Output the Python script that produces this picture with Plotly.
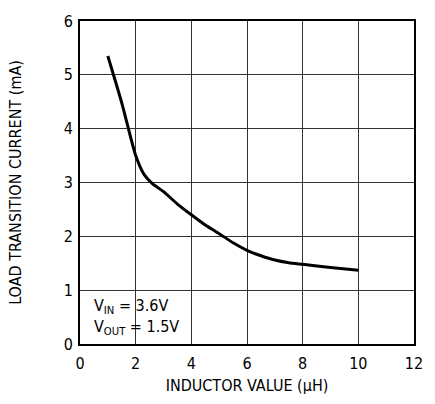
import plotly.graph_objects as go

# inductor value (uH) vs load transition current (mA)
inductance = [1.0, 1.5, 2.0, 2.3, 2.6, 3.0, 3.5, 4.0, 4.5, 5.0, 5.5, 6.0, 6.5, 7.0, 7.5, 8.0, 9.0, 10.0]
current = [5.35, 4.48, 3.5, 3.15, 2.98, 2.83, 2.6, 2.4, 2.21, 2.05, 1.88, 1.74, 1.64, 1.56, 1.51, 1.48, 1.42, 1.37]

font_name = "DejaVu Sans Condensed, Liberation Sans, Arial"

fig = go.Figure()
fig.add_trace(go.Scatter(x=inductance, y=current, mode="lines",
                         line=dict(color="black", width=3, shape="spline", smoothing=0.6),
                         showlegend=False))

fig.add_annotation(x=0.035, y=0.085, xref="paper", yref="paper", xanchor="left", yanchor="middle",
                   text="V<sub>IN</sub> = 3.6V<br>V<sub>OUT</sub> = 1.5V", showarrow=False, align="left",
                   font=dict(family=font_name, size=16, color="black"))

fig.update_layout(
    width=435, height=404,
    margin=dict(l=80, r=21, t=12, b=56),
    plot_bgcolor="white", paper_bgcolor="white",
    font=dict(family=font_name, size=16, color="black"),
    xaxis=dict(range=[0, 12], dtick=2, showgrid=True, gridcolor="#333", gridwidth=1,
               showline=True, linecolor="black", linewidth=2, mirror=True, zeroline=False,
               ticks="", ticklabelstandoff=4,
               title=dict(text="INDUCTOR VALUE (µH)", font=dict(size=16), standoff=8)),
    yaxis=dict(range=[0, 6], dtick=1, showgrid=True, gridcolor="#333", gridwidth=1,
               showline=True, linecolor="black", linewidth=2, mirror=True, zeroline=False,
               ticks="", ticklabelstandoff=2,
               title=dict(text="LOAD TRANSITION CURRENT (mA)", font=dict(size=16), standoff=38)),
)

# page body has a default margin; drop it so the figure sits at the window corner
fig.write_html("out.html", config={"displayModeBar": False},
               post_script="document.body.style.margin='0';")
